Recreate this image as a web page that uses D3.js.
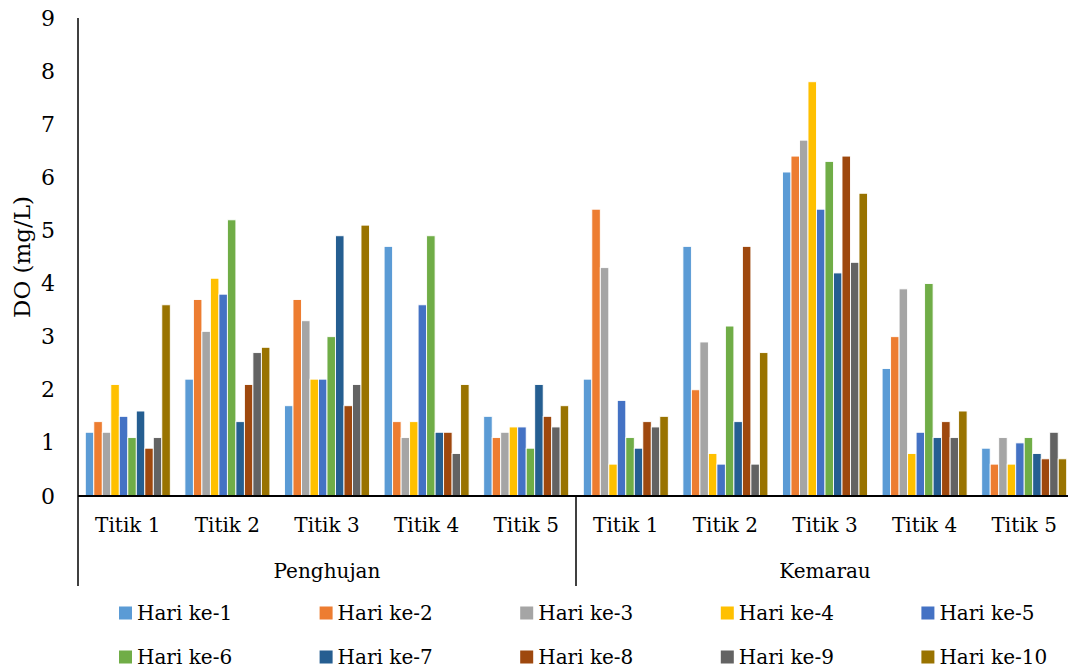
<!DOCTYPE html>
<html>
<head>
<meta charset="utf-8">
<script src="https://cdn.jsdelivr.net/npm/d3@7"></script>
<style>
  html, body { margin: 0; padding: 0; background: #fff; }
  svg { display: block; }
</style>
</head>
<body>
<svg id="chart" width="1068" height="670"></svg>
<script>
// Seasons and sampling points along the category axis
const seasons = ["Penghujan", "Kemarau"];
const points = ["Titik 1", "Titik 2", "Titik 3", "Titik 4", "Titik 5"];
const days = ["Hari ke-1", "Hari ke-2", "Hari ke-3", "Hari ke-4", "Hari ke-5",
              "Hari ke-6", "Hari ke-7", "Hari ke-8", "Hari ke-9", "Hari ke-10"];
const dayColors = ["#5B9BD5", "#ED7D31", "#A5A5A5", "#FFC000", "#4472C4",
                   "#70AD47", "#255E91", "#9E480E", "#636363", "#997300"];
const yTicks = [0, 1, 2, 3, 4, 5, 6, 7, 8, 9];

// DO (mg/L) per day, rainy season
const penghujanTitik1 = [1.2, 1.4, 1.2, 2.1, 1.5, 1.1, 1.6, 0.9, 1.1, 3.6];
const penghujanTitik2 = [2.2, 3.7, 3.1, 4.1, 3.8, 5.2, 1.4, 2.1, 2.7, 2.8];
const penghujanTitik3 = [1.7, 3.7, 3.3, 2.2, 2.2, 3.0, 4.9, 1.7, 2.1, 5.1];
const penghujanTitik4 = [4.7, 1.4, 1.1, 1.4, 3.6, 4.9, 1.2, 1.2, 0.8, 2.1];
const penghujanTitik5 = [1.5, 1.1, 1.2, 1.3, 1.3, 0.9, 2.1, 1.5, 1.3, 1.7];
// DO (mg/L) per day, dry season
const kemarauTitik1 = [2.2, 5.4, 4.3, 0.6, 1.8, 1.1, 0.9, 1.4, 1.3, 1.5];
const kemarauTitik2 = [4.7, 2.0, 2.9, 0.8, 0.6, 3.2, 1.4, 4.7, 0.6, 2.7];
const kemarauTitik3 = [6.1, 6.4, 6.7, 7.8, 5.4, 6.3, 4.2, 6.4, 4.4, 5.7];
const kemarauTitik4 = [2.4, 3.0, 3.9, 0.8, 1.2, 4.0, 1.1, 1.4, 1.1, 1.6];
const kemarauTitik5 = [0.9, 0.6, 1.1, 0.6, 1.0, 1.1, 0.8, 0.7, 1.2, 0.7];

const seasonValues = {
  Penghujan: [penghujanTitik1, penghujanTitik2, penghujanTitik3, penghujanTitik4, penghujanTitik5],
  Kemarau: [kemarauTitik1, kemarauTitik2, kemarauTitik3, kemarauTitik4, kemarauTitik5]
};

// Flatten into one row per (season, point)
const rows = [];
seasons.forEach(s => points.forEach((p, i) => {
  rows.push({ key: s + "|" + p, season: s, point: p, values: seasonValues[s][i] });
}));

const FONT = "DejaVu Serif";
const FS = 20;
const svg = d3.select("#chart");
const plotLeft = 78, plotRight = 1074, plotTop = 18, plotBase = 496;

const x0 = d3.scaleBand()
  .domain(rows.map(r => r.key))
  .range([plotLeft, plotRight])
  .paddingInner(0.1466)
  .paddingOuter(0.0733);

const x1 = d3.scaleBand()
  .domain(days)
  .range([0, x0.bandwidth()])
  .padding(0);

const y = d3.scaleLinear().domain([0, 9]).range([plotBase, plotTop]);
const color = d3.scaleOrdinal().domain(days).range(dayColors);

// Bars
const groups = svg.append("g").selectAll("g")
  .data(rows)
  .join("g")
  .attr("transform", d => `translate(${x0(d.key)},0)`);

groups.selectAll("rect")
  .data(d => d.values.map((v, i) => ({ day: days[i], value: v })))
  .join("rect")
  .attr("x", d => x1(d.day))
  .attr("y", d => y(d.value))
  .attr("width", x1.bandwidth())
  .attr("height", d => plotBase - y(d.value))
  .attr("fill", d => color(d.day))
  .attr("stroke", "#fff")
  .attr("stroke-width", 0.9);

// Y axis (labels only, plain line)
const yAxis = d3.axisLeft(y).tickValues(yTicks).tickSize(0).tickPadding(23);
const gy = svg.append("g").attr("transform", `translate(${plotLeft},0)`).call(yAxis);
gy.select(".domain").remove();
gy.attr("font-family", FONT).attr("font-size", 22);
gy.selectAll("text").attr("fill", "#000");

svg.append("line")
  .attr("x1", plotLeft).attr("x2", plotLeft)
  .attr("y1", plotTop).attr("y2", 586)
  .attr("stroke", "#000").attr("stroke-width", 1.5);

// X axis baseline
svg.append("line")
  .attr("x1", plotLeft).attr("x2", plotRight)
  .attr("y1", plotBase).attr("y2", plotBase)
  .attr("stroke", "#000").attr("stroke-width", 2);

// Point labels
svg.append("g").selectAll("text")
  .data(rows)
  .join("text")
  .attr("x", d => x0(d.key) + x0.bandwidth() / 2)
  .attr("y", 532)
  .attr("text-anchor", "middle")
  .attr("font-family", FONT)
  .attr("font-size", FS)
  .text(d => d.point);

// Season labels and dividers
seasons.forEach(s => {
  const keys = rows.filter(r => r.season === s).map(r => r.key);
  const start = x0(keys[0]) - x0.step() * x0.paddingInner() / 2;
  const end = x0(keys[keys.length - 1]) + x0.bandwidth() + x0.step() * x0.paddingInner() / 2;
  svg.append("text")
    .attr("x", (start + end) / 2)
    .attr("y", 578)
    .attr("text-anchor", "middle")
    .attr("font-family", FONT)
    .attr("font-size", FS)
    .text(s);
  svg.append("line")
    .attr("x1", end).attr("x2", end)
    .attr("y1", plotBase).attr("y2", 586)
    .attr("stroke", "#000").attr("stroke-width", 1.5);
});

// Y axis title
svg.append("text")
  .attr("transform", "translate(30,257) rotate(-90)")
  .attr("text-anchor", "middle")
  .attr("font-family", FONT)
  .attr("font-size", 23)
  .text("DO (mg/L)");

// Legend: two rows of five
const legend = svg.append("g").selectAll("g")
  .data(days)
  .join("g")
  .attr("transform", (d, i) => `translate(${119 + (i % 5) * 200.6},${i < 5 ? 613 : 657})`);

legend.append("rect")
  .attr("x", 0).attr("y", -6.5)
  .attr("width", 13).attr("height", 13)
  .attr("fill", d => color(d));

legend.append("text")
  .attr("x", 18)
  .attr("y", 7)
  .attr("font-family", FONT)
  .attr("font-size", FS)
  .text(d => d);
</script>
</body>
</html>
